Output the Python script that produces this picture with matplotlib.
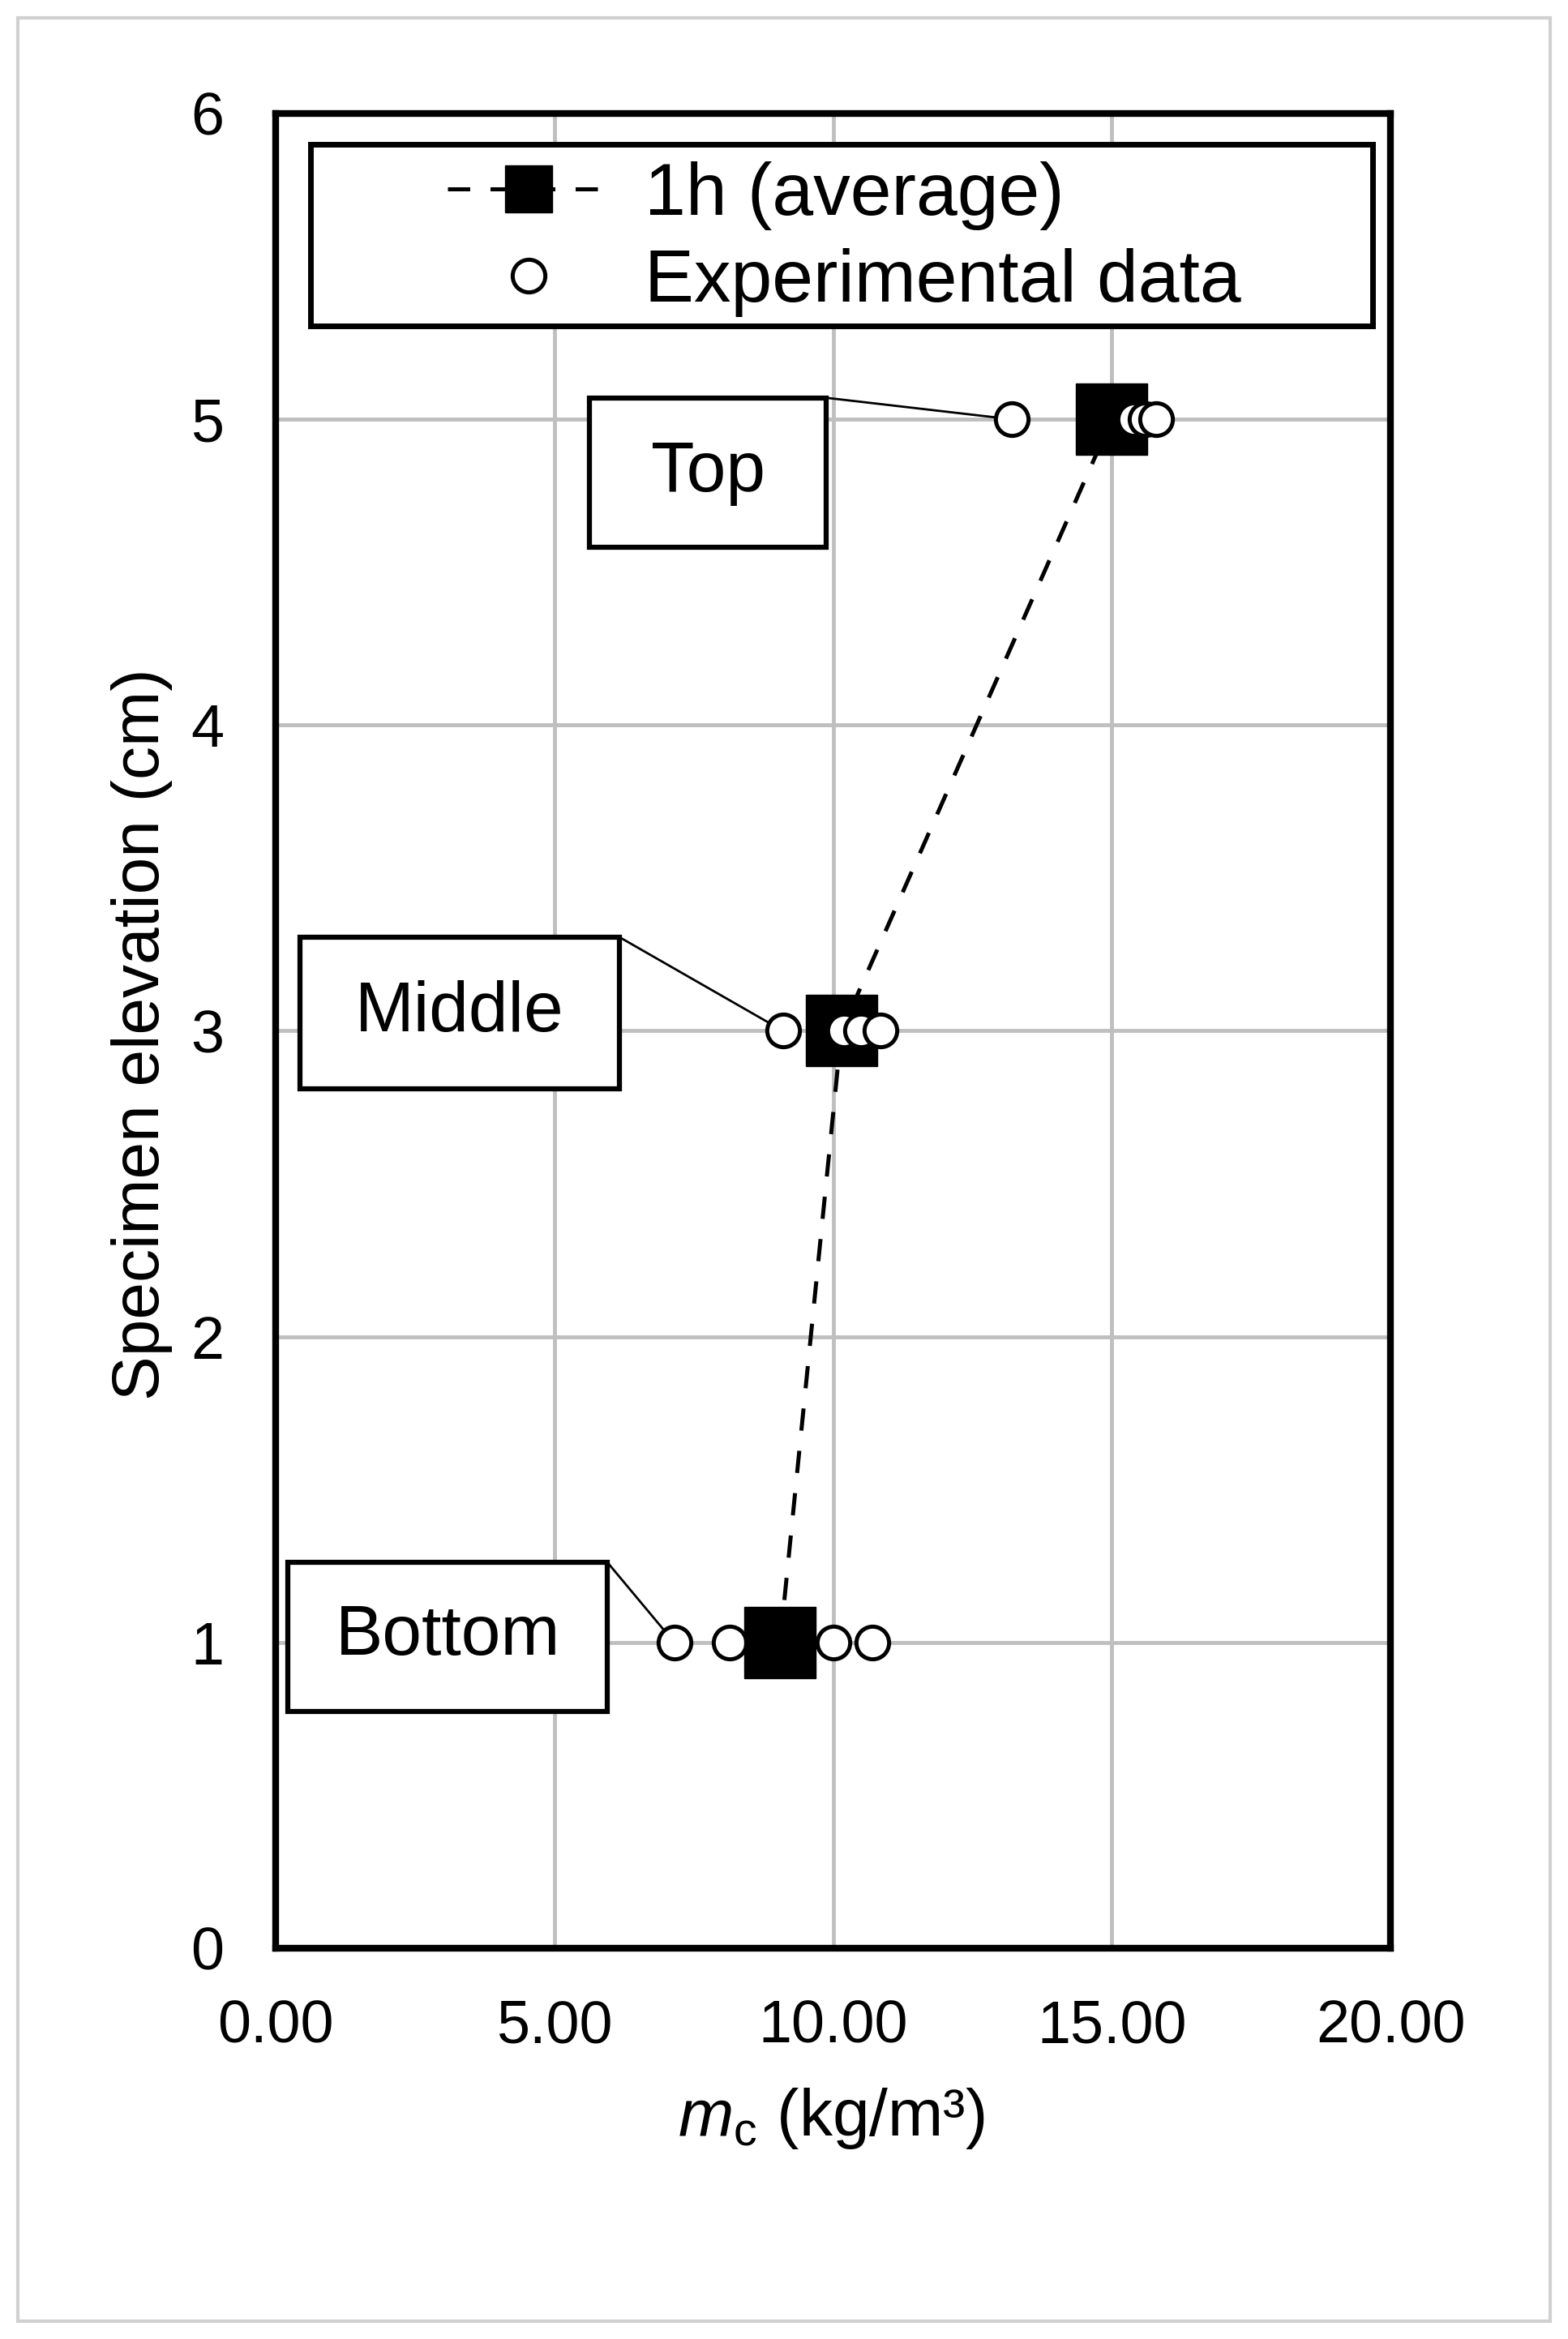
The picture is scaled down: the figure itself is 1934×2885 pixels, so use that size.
import matplotlib
matplotlib.use("Agg")
import matplotlib.pyplot as plt
from matplotlib.patches import Rectangle
from matplotlib.lines import Line2D

plt.rcParams['font.family'] = ['Liberation Sans', 'DejaVu Sans']
plt.rcParams['mathtext.fontset'] = 'custom'
plt.rcParams['mathtext.rm'] = 'Liberation Sans'
plt.rcParams['mathtext.it'] = 'Liberation Sans:italic'

# data
elevation = [1, 3, 5]
avg_mc = [9.05, 10.15, 15.0]
bottom_mc = [7.15, 8.15, 10.0, 10.7]
middle_mc = [9.1, 10.2, 10.5, 10.85]
top_mc = [13.2, 15.4, 15.6, 15.8]
level_names = ['Bottom', 'Middle', 'Top']
xticks = [0, 5, 10, 15, 20]
yticks = [0, 1, 2, 3, 4, 5, 6]

# callout boxes (x0, y0, x1, y1) in data units
boxes = [(0.22, 0.774, 5.95, 1.262), (0.44, 2.81, 6.17, 3.306), (5.63, 4.58, 9.88, 5.07)]

dash = (0, (5.5, 5))

fig = plt.figure(figsize=(19.34, 28.85), dpi=100)
ax = fig.add_axes([0.1758, 0.1671, 0.7110, 0.7844])

circ = dict(ls='none', marker='o', mfc='white', mec='black', ms=29, mew=3.6)
ax.plot(bottom_mc, [elevation[0]] * len(bottom_mc), zorder=3, **circ)
ax.plot(avg_mc, elevation, color='black', ls=dash, lw=3.6, marker='s',
        ms=63, mfc='black', mec='black', mew=1, zorder=4)
ax.plot(middle_mc, [elevation[1]] * len(middle_mc), zorder=5, **circ)
ax.plot(top_mc, [elevation[2]] * len(top_mc), zorder=5, **circ)

# callouts
for name, (x0, y0, x1, y1), y, pts in zip(level_names, boxes, elevation,
                                           [bottom_mc, middle_mc, top_mc]):
    ax.add_patch(Rectangle((x0, y0), x1 - x0, y1 - y0, fc='white', ec='black',
                           lw=4.5, zorder=6))
    ax.text((x0 + x1) / 2, (y0 + y1) / 2, name, ha='center', va='center',
            fontsize=63, zorder=7)
    ax.plot([x1, min(pts)], [y1, y], color='black', lw=2, zorder=2.5)

ax.set_xlim(0, 20)
ax.set_ylim(0, 6)
ax.set_xticks(xticks)
ax.set_xticklabels(["{:.2f}".format(v) for v in xticks])
ax.set_yticks(yticks)
ax.grid(True, color='#bfbfbf', lw=3.5)
ax.set_axisbelow(True)
ax.tick_params(axis='x', length=0, pad=45, labelsize=53)
ax.tick_params(axis='y', length=0, pad=46, labelsize=53)
for s in ax.spines.values():
    s.set_linewidth(6)
    s.set_zorder(10)

ax.set_xlabel(r'$m_\mathrm{c}$ (kg/m³)', fontsize=59)
ax.xaxis.label.set_va('center')
ax.xaxis.set_label_coords(0.498, -0.0928)
ax.set_ylabel('Specimen elevation (cm)', fontsize=59)
ax.yaxis.label.set_va('center')
ax.yaxis.set_label_coords(-0.12, 0.498)

# legend with its own frame
ax.add_patch(Rectangle((0.031, 0.884), 0.953, 0.099, transform=ax.transAxes,
                       fc='white', ec='black', lw=5, zorder=8))
handles = [Line2D([], [], color='black', ls=dash, lw=3.6, marker='s', ms=42,
                  mfc='black', mec='black'),
           Line2D([], [], **circ)]
leg = ax.legend(handles, ['1h (average)', 'Experimental data'], loc='center left',
                bbox_to_anchor=(0.154, 0.9315), frameon=False, fontsize=65.7,
                handlelength=2.2, handletextpad=0.47, borderpad=0,
                borderaxespad=0, labelspacing=0.24)
leg.set_zorder(9)

fig.patches.append(Rectangle((22 / 1934, 22 / 2885), 1890 / 1934, 2841 / 2885,
                             transform=fig.transFigure, fill=False,
                             ec='#d0d0d0', lw=3))

fig.savefig('out.png', dpi=100)
